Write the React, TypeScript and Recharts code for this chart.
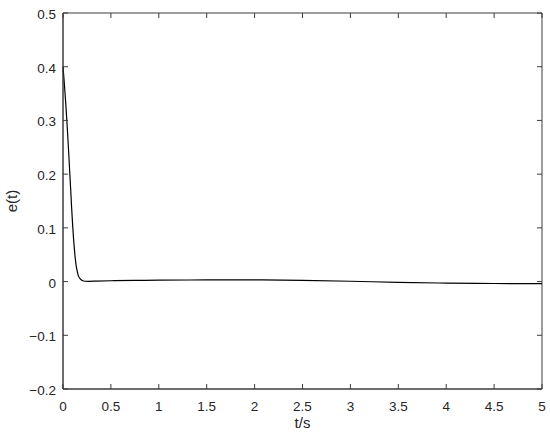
import { LineChart, Line, XAxis, YAxis, ReferenceArea, Label } from 'recharts'

const tValues = [0, 0.01, 0.02, 0.03, 0.04, 0.05, 0.06, 0.07, 0.08, 0.09, 0.1, 0.11, 0.12, 0.13, 0.14, 0.15, 0.16, 0.18, 0.2, 0.23, 0.27, 0.35, 0.5, 0.75, 1, 1.5, 2, 2.5, 3, 3.5, 4, 4.5, 5]
const eValues = [0.4, 0.378, 0.354, 0.328, 0.3, 0.27, 0.238, 0.205, 0.172, 0.138, 0.107, 0.08, 0.058, 0.04, 0.027, 0.018, 0.011, 0.005, 0.002, 0.0006, 0.0005, 0.0009, 0.0015, 0.0022, 0.0026, 0.003, 0.003, 0.0022, 0.0006, -0.0014, -0.0028, -0.0036, -0.004]
const xTicks = [0, 0.5, 1, 1.5, 2, 2.5, 3, 3.5, 4, 4.5, 5]
const yTicks = [-0.2, -0.1, 0, 0.1, 0.2, 0.3, 0.4, 0.5]

const data = tValues.map((t, i) => ({ t, e: eValues[i] }))

const axisColor = '#3c3c3c'
const textColor = '#262626'
const fontFamily = '"Liberation Sans", Arial, Helvetica, sans-serif'
const plotTop = 13
const plotRight = 542

const fmt = (v: number) => (v < 0 ? '\u2212' + String(-v) : String(v))

const XTick = ({ x, y, payload }: any) => (
  <g>
    <line x1={x} y1={y} x2={x} y2={y - 5} stroke={axisColor} />
    <line x1={x} y1={plotTop} x2={x} y2={plotTop + 5} stroke={axisColor} />
    <text x={x} y={y + 22} textAnchor="middle" fontSize={13.5} fill={textColor} fontFamily={fontFamily}>
      {fmt(payload.value)}
    </text>
  </g>
)

const YTick = ({ x, y, payload }: any) => (
  <g>
    <line x1={x} y1={y} x2={x + 5} y2={y} stroke={axisColor} />
    <line x1={plotRight} y1={y} x2={plotRight - 5} y2={y} stroke={axisColor} />
    <text x={x - 7} y={y + 6} textAnchor="end" fontSize={13.5} fill={textColor} fontFamily={fontFamily}>
      {fmt(payload.value)}
    </text>
  </g>
)

export default function App() {
  return (
    <div style={{ position: 'absolute', left: 0, top: 0, background: '#fff' }}>
      <LineChart width={550} height={436} data={data} margin={{ top: plotTop, right: 550 - plotRight, left: 0, bottom: 0 }}>
        <XAxis
          dataKey="t"
          type="number"
          domain={[0, 5]}
          ticks={xTicks}
          interval={0}
          height={47}
          tickSize={0}
          tickMargin={0}
          tickLine={false}
          stroke={axisColor}
          tick={<XTick />}
        >
          <Label value="t/s" position="insideBottom" offset={8} style={{ fontSize: 15, fill: textColor, fontFamily }} />
        </XAxis>
        <YAxis
          type="number"
          domain={[-0.2, 0.5]}
          ticks={yTicks}
          interval={0}
          width={63}
          tickSize={0}
          tickMargin={0}
          tickLine={false}
          stroke={axisColor}
          tick={<YTick />}
          allowDataOverflow
        >
          <Label value="e(t)" angle={-90} position="insideLeft" offset={12} style={{ fontSize: 15, fill: textColor, fontFamily, textAnchor: 'middle' }} />
        </YAxis>
        <ReferenceArea x1={0} x2={5} y1={-0.2} y2={0.5} fill="none" stroke={axisColor} strokeWidth={1} ifOverflow="visible" />
        <Line type="monotone" dataKey="e" stroke="#000" strokeWidth={1.2} dot={false} isAnimationActive={false} />
      </LineChart>
    </div>
  )
}
